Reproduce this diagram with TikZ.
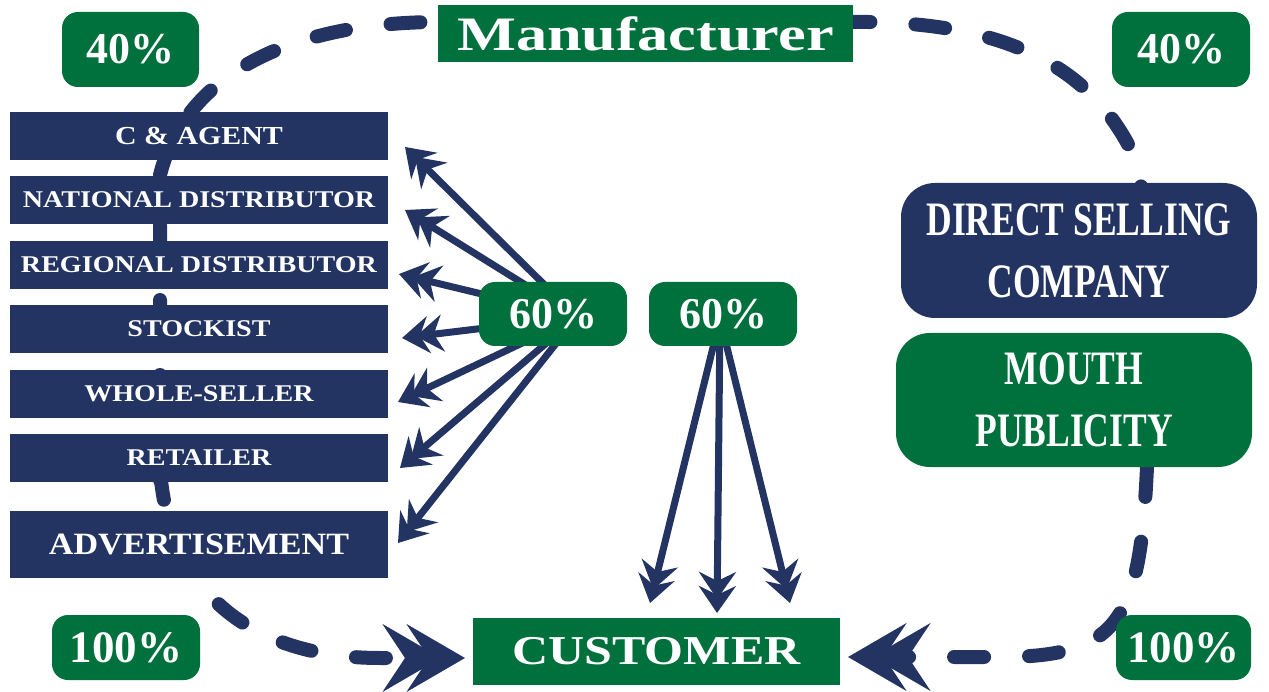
\documentclass[tikz,border=0pt]{standalone}
\usepackage{fontspec}
\setmainfont{Liberation Serif}
\usepackage{graphicx}
\usetikzlibrary{arrows.meta,backgrounds,calc}
\definecolor{navy}{RGB}{35,52,98}
\definecolor{dgreen}{RGB}{0,112,60}
\newcommand\hs[2]{\scalebox{#1}[1]{#2}}
\begin{document}
\begin{tikzpicture}[x=1pt,y=-1pt,
  navybox/.style={fill=navy,text=white,inner sep=0pt,minimum width=378pt,minimum height=48pt,font=\bfseries\fontsize{24}{28}\selectfont},
  pct/.style={fill=dgreen,text=white,rounded corners=16pt,inner sep=0pt,font=\bfseries\fontsize{44}{48}\selectfont},
  bigbox/.style={text=white,rounded corners=34pt,inner sep=0pt,minimum width=356pt,minimum height=135pt,align=center,font=\bfseries\fontsize{48}{62}\selectfont},
  greenrect/.style={fill=dgreen,text=white,inner sep=0pt},
  dashcurve/.style={draw=navy,line width=14pt,line cap=round,dash pattern=on 30pt off 45pt},
  bigtip/.style={-{Stealth[length=58pt,width=67pt,inset=22pt,sep=-34pt,fill=navy]Stealth[length=58pt,width=67pt,inset=22pt,fill=navy]}},
  thinarrow/.style={draw=navy,line width=7pt,-{Stealth[length=27pt,width=37pt,inset=9pt,sep=-13pt,fill=navy]Stealth[length=27pt,width=37pt,inset=9pt,fill=navy]}}
]
\useasboundingbox (0,0) rectangle (1269,692);

% nodes
\node[greenrect,minimum width=415pt,minimum height=57pt,font=\bfseries\fontsize{48}{52}\selectfont] (manu) at (645.5,33.5) {\hs{1.3}{Manufacturer}};
\node[pct,minimum width=137pt,minimum height=75pt] (p40a) at (130.5,49.5) {40\%};
\node[pct,minimum width=138pt,minimum height=75pt] (p40b) at (1181,49.5) {40\%};

\node[navybox,font=\bfseries\fontsize{26}{30}\selectfont] (ca) at (199,136) {\hs{1.15}{C \& AGENT}};
\node[navybox] (nd) at (199,200) {\hs{1.17}{NATIONAL DISTRIBUTOR}};
\node[navybox] (rd) at (199,265) {\hs{1.17}{REGIONAL DISTRIBUTOR}};
\node[navybox] (st) at (199,329) {\hs{1.17}{STOCKIST}};
\node[navybox] (ws) at (199,394) {\hs{1.17}{WHOLE-SELLER}};
\node[navybox] (rt) at (199,458) {\hs{1.17}{RETAILER}};
\node[navybox,minimum height=67pt,font=\bfseries\fontsize{31}{36}\selectfont] (ad) at (199,544.5) {\hs{1.1}{ADVERTISEMENT}};

\node[pct,minimum width=148pt,minimum height=64pt] (p60a) at (553,314) {60\%};
\node[pct,minimum width=148pt,minimum height=64pt] (p60b) at (723,314) {60\%};

\node[bigbox,fill=navy] (ds) at (1079,250.5) {\hs{0.74}{DIRECT SELLING}\\\hs{0.74}{COMPANY}};
\node[bigbox,fill=dgreen,minimum height=134pt] (mp) at (1074,400) {\hs{0.74}{MOUTH}\\\hs{0.74}{PUBLICITY}};

\node[greenrect,minimum width=367pt,minimum height=67pt,font=\bfseries\fontsize{41}{45}\selectfont] (cust) at (656.5,651.5) {\hs{1.22}{CUSTOMER}};
\node[pct,minimum width=148pt,minimum height=65pt,font=\bfseries\fontsize{45}{49}\selectfont] (p100a) at (126,647.5) {100\%};
\node[pct,minimum width=135pt,minimum height=65pt,font=\bfseries\fontsize{45}{49}\selectfont] (p100b) at (1183.5,647.5) {100\%};

% free ends
\coordinate (t1) at (405,147);
\coordinate (t2) at (405,210);
\coordinate (t3) at (399,274);
\coordinate (t4) at (402,338);
\coordinate (t5) at (398,402);
\coordinate (t6) at (400,468);
\coordinate (t7) at (398,543);
\coordinate (b1) at (650,603);
\coordinate (b2) at (717,613);
\coordinate (b3) at (790,603);
\coordinate (dl) at (160,480);
\coordinate (dr) at (1142,200);
\coordinate (bl) at (160,470);
\coordinate (cl) at (465,658);
\coordinate (br) at (1147,467);
\coordinate (cr) at (848,657);

\begin{pgfonlayer}{background}
\draw[dashcurve] (dl) -- (160,175) .. controls (185,75) and (290,22) .. (440,22) -- (850,22) .. controls (1010,20) and (1100,70) .. (1140,170) -- (dr);
\draw[dashcurve,bigtip] (bl) .. controls (170,600) and (260,658) .. (380,658) -- (cl);
\draw[dashcurve,bigtip] (br) .. controls (1140,620) and (1120,657) .. (1000,657) -- (cr);
\foreach \t in {t1,t2,t3,t4,t5,t6,t7} \draw[thinarrow] ($(p60a.center)+(24,3)$) -- (\t);
\foreach \t in {b1,b2,b3} \draw[thinarrow] ($(p60b.center)+(-3,5)$) -- (\t);
\end{pgfonlayer}
\end{tikzpicture}
\end{document}
